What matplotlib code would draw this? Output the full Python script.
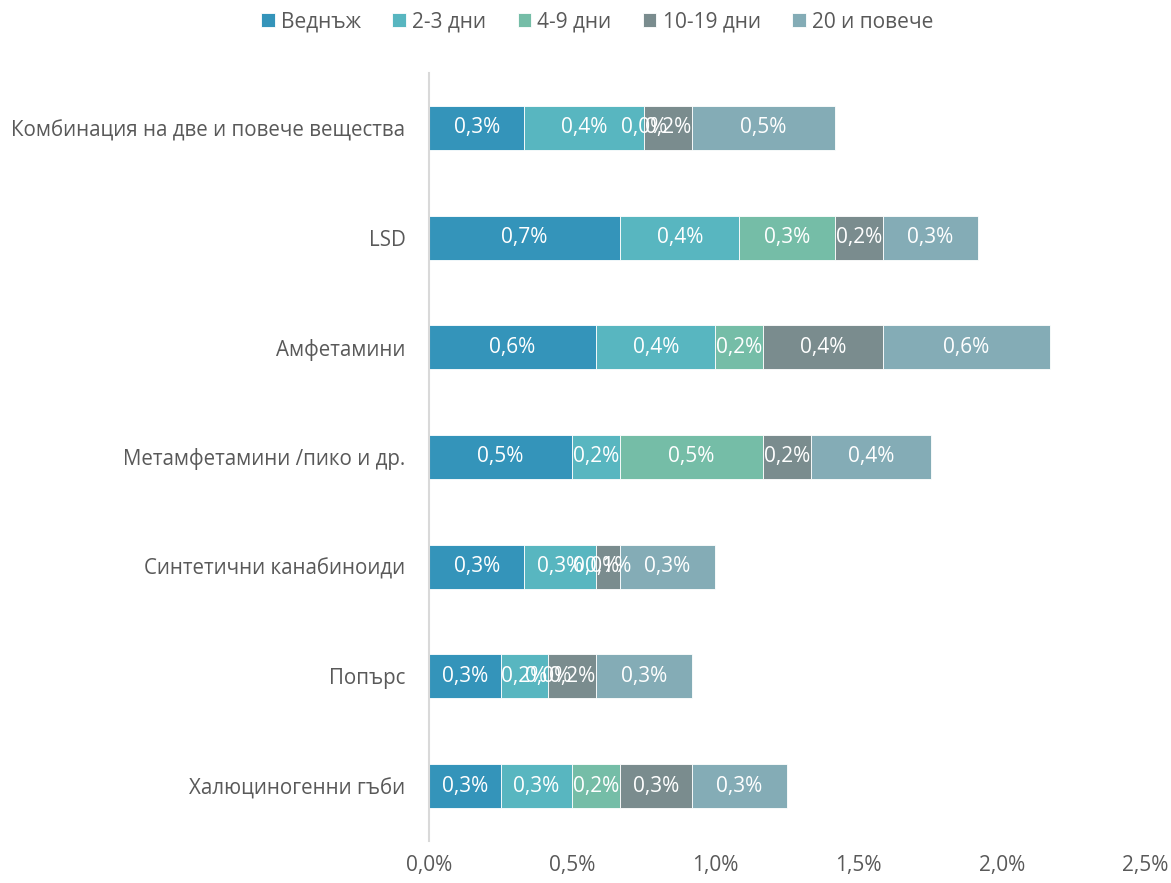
import matplotlib
matplotlib.use("Agg")
import matplotlib.pyplot as plt
import numpy as np
from decimal import Decimal, ROUND_HALF_UP

plt.rcParams['font.family'] = ['Open Sans', 'DejaVu Sans']

categories = ["Комбинация на две и повече вещества", "LSD", "Амфетамини",
              "Метамфетамини /пико и др.", "Синтетични канабиноиди", "Попърс",
              "Халюциногенни гъби"]
series_names = ["Веднъж", "2-3 дни", "4-9 дни", "10-19 дни", "20 и повече"]
vednazh = [0.333, 0.667, 0.583, 0.500, 0.333, 0.250, 0.250]
dni_2_3 = [0.417, 0.417, 0.417, 0.167, 0.250, 0.167, 0.250]
dni_4_9 = [0.000, 0.333, 0.167, 0.500, 0.000, 0.000, 0.167]
dni_10_19 = [0.167, 0.167, 0.417, 0.167, 0.083, 0.167, 0.250]
dni_20 = [0.500, 0.333, 0.583, 0.417, 0.333, 0.333, 0.333]
colors = ["#3494BA", "#58B6C0", "#75BDA7", "#7A8C8E", "#84ACB6"]
xticks = [0.0, 0.5, 1.0, 1.5, 2.0, 2.5]

series = [vednazh, dni_2_3, dni_4_9, dni_10_19, dni_20]


def fmt(v):
    d = Decimal(str(v)).quantize(Decimal("0.1"), rounding=ROUND_HALF_UP)
    return str(d).replace('.', ',') + "%"


fig = plt.figure(figsize=(11.71, 8.83), dpi=100)
ax = fig.add_axes([0.3664, 0.0476, 0.6114, 0.8697])

y = np.arange(len(categories))
left = np.zeros(len(categories))
handles = []
for name, vals, c in zip(series_names, series, colors):
    vals = np.array(vals)
    b = ax.barh(y, vals, left=left, height=0.4, color=c, edgecolor='white',
                linewidth=0.6, label=name)
    handles.append(b)
    for yi, (l, v) in enumerate(zip(left, vals)):
        ax.text(l + v / 2, yi, fmt(v), ha='center',
                va='center', color='white', fontsize=15)
    left = left + vals

ax.set_ylim(len(categories) - 0.5, -0.5)
ax.set_xlim(0, 2.5)
ax.set_yticks(y)
ax.set_yticklabels(categories, fontsize=14.8, color='#595959')
ax.set_xticks(xticks)
ax.set_xticklabels([fmt(t) for t in xticks], fontsize=15, color='#595959')
ax.tick_params(axis='both', length=0)
ax.tick_params(axis='y', pad=17)
ax.tick_params(axis='x', pad=10)
for s in ['top', 'right', 'bottom']:
    ax.spines[s].set_visible(False)
ax.spines['left'].set_color('#D9D9D9')
ax.spines['left'].set_linewidth(1.5)

fig.legend(handles=handles, labels=series_names, loc='upper center',
           bbox_to_anchor=(0.51, 1.008), ncol=5, frameon=False, fontsize=15,
           handlelength=0.65, handleheight=0.65, handletextpad=0.3,
           columnspacing=1.5, labelcolor='#595959')

fig.savefig("out.png", dpi=100)
